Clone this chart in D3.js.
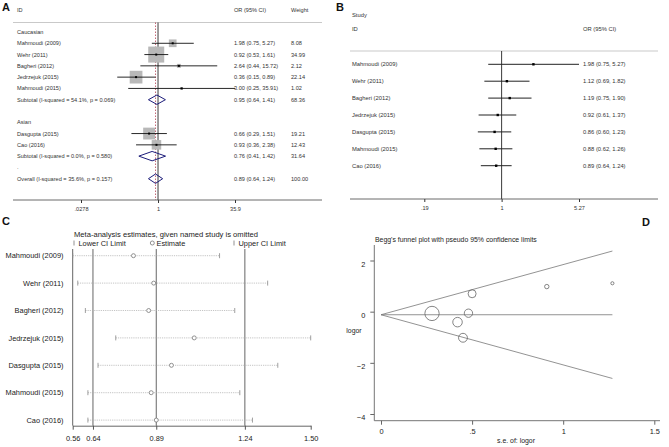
<!DOCTYPE html>
<html>
<head>
<meta charset="utf-8">
<script src="https://cdn.jsdelivr.net/npm/d3@7"></script>
<style>
  body { margin: 0; background: #fff; }
  svg { font-family: Arial, "Liberation Sans", sans-serif; }
</style>
</head>
<body>
<div id="chart"></div>
<script>
// ---- panel A: subgroup forest plot ----
var aLabels = ["Caucasian", "Mahmoudi (2009)", "Wehr (2011)", "Bagheri (2012)", "Jedrzejuk (2015)",
  "Mahmoudi (2015)", "Subtotal  (I-squared = 54.1%, p = 0.069)", "", "Asian", "Dasgupta (2015)",
  "Cao (2016)", "Subtotal  (I-squared = 0.0%, p = 0.580)", ".", "Overall  (I-squared = 35.6%, p = 0.157)"];
var aType = ["head", "study", "study", "study", "study", "study", "sub", "blank", "head", "study",
  "study", "sub", "blank", "overall"];
var aOR   = [null, 1.98, 0.92, 2.64, 0.36, 3.00, 0.95, null, null, 0.66, 0.93, 0.76, null, 0.89];
var aLow  = [null, 0.75, 0.53, 0.44, 0.15, 0.25, 0.64, null, null, 0.29, 0.36, 0.41, null, 0.64];
var aHigh = [null, 5.27, 1.61, 15.72, 0.89, 35.91, 1.41, null, null, 1.51, 2.38, 1.42, null, 1.24];
var aWeight = [null, 8.08, 34.99, 2.12, 22.14, 1.02, 68.36, null, null, 19.21, 12.43, 31.64, null, 100.00];
var aTicks = [0.0278, 1, 35.9];
var aTickLabels = [".0278", "1", "35.9"];

// ---- panel B: cumulative meta-analysis ----
var bLabels = ["Mahmoudi (2009)", "Wehr (2011)", "Bagheri (2012)", "Jedrzejuk (2015)",
  "Dasgupta (2015)", "Mahmoudi (2015)", "Cao (2016)"];
var bOR   = [1.98, 1.12, 1.19, 0.92, 0.86, 0.88, 0.89];
var bLow  = [0.75, 0.69, 0.75, 0.61, 0.60, 0.62, 0.64];
var bHigh = [5.27, 1.82, 1.90, 1.37, 1.23, 1.26, 1.24];
var bTicks = [0.19, 1, 5.27];
var bTickLabels = [".19", "1", "5.27"];

// ---- panel C: leave-one-out sensitivity ----
var cLabels = ["Mahmoudi (2009)", "Wehr (2011)", "Bagheri (2012)", "Jedrzejuk (2015)",
  "Dasgupta (2015)", "Mahmoudi (2015)", "Cao (2016)"];
var cEst  = [0.80, 0.88, 0.86, 1.04, 0.95, 0.87, 0.89];
var cLow  = [0.56, 0.58, 0.61, 0.73, 0.66, 0.62, 0.62];
var cHigh = [1.14, 1.33, 1.20, 1.50, 1.37, 1.22, 1.27];
var cTicks = [0.56, 0.64, 0.89, 1.24, 1.50];
var cRefLines = [0.64, 0.89, 1.24];

// ---- panel D: Begg's funnel plot ----
var dSe    = [0.50, 0.28, 0.91, 0.45, 1.27, 0.42, 0.48];
var dLogor = [0.70, -0.07, 0.98, -1.02, 1.11, -0.41, -0.06];
var funnelSe  = [0, 1.27];
var funnelMid = [-0.12, -0.12];
var funnelUp  = [-0.12, 2.37];
var funnelLow = [-0.12, -2.61];
var dYTicks = [2, 0, -2, -4];
var dXTicks = [0, 0.5, 1, 1.5];
var dXTickLabels = ["0", ".5", "1", "1.5"];

var svg = d3.select("#chart").append("svg")
  .attr("width", 669).attr("height", 447);

function letter(t, x, y) {
  svg.append("text").attr("x", x).attr("y", y).text(t)
    .attr("font-size", 11).attr("font-weight", "bold").attr("fill", "#111");
}
letter("A", 2, 11);
letter("B", 336, 11);
letter("C", 2, 225);
letter("D", 642, 226);

// =============== A ===============
var gA = svg.append("g");
var xA = d3.scaleLog().domain([0.0278, 35.9]).range([81, 235]);
var yA = d3.scaleLinear().domain([0, 13]).range([32, 178.7]);
var sA = d3.scaleSqrt().domain([0, 35]).range([0, 16]);

gA.append("text").attr("x", 17).attr("y", 12).text("ID");
gA.append("text").attr("x", 234).attr("y", 12).text("OR (95% CI)");
gA.append("text").attr("x", 291).attr("y", 12).text("Weight");
gA.append("line").attr("x1", 13).attr("x2", 322).attr("y1", 22.5).attr("y2", 22.5)
  .attr("stroke", "#bbb").attr("stroke-width", 0.8);

// reference lines
gA.append("line").attr("x1", xA(1)).attr("x2", xA(1)).attr("y1", 22.5).attr("y2", 200)
  .attr("stroke", "#222").attr("stroke-width", 0.9);
gA.append("line").attr("x1", xA(0.89)).attr("x2", xA(0.89)).attr("y1", 22.5).attr("y2", 200)
  .attr("stroke", "#b04050").attr("stroke-width", 0.8).attr("stroke-dasharray", "1.5,1.5");

aLabels.forEach(function(lab, i) {
  var y = yA(i);
  gA.append("text").attr("x", 17).attr("y", y + 2).text(lab);
  if (aOR[i] == null) return;
  gA.append("text").attr("x", 234).attr("y", y + 2)
    .text(aOR[i].toFixed(2) + " (" + aLow[i].toFixed(2) + ", " + aHigh[i].toFixed(2) + ")");
  gA.append("text").attr("x", 291).attr("y", y + 2).text(aWeight[i].toFixed(2));
  if (aType[i] == "study") {
    var s = sA(aWeight[i]);
    gA.append("rect").attr("x", xA(aOR[i]) - s / 2).attr("y", y - s / 2)
      .attr("width", s).attr("height", s).attr("fill", "#b8b8b8");
    gA.append("line").attr("x1", xA(aLow[i])).attr("x2", xA(aHigh[i]))
      .attr("y1", y).attr("y2", y).attr("stroke", "#111").attr("stroke-width", 0.9);
    gA.append("rect").attr("x", xA(aOR[i]) - 1).attr("y", y - 1)
      .attr("width", 2).attr("height", 2).attr("fill", "#000");
  } else {
    var h = 4.7;
    gA.append("path")
      .attr("d", "M" + xA(aLow[i]) + "," + y + "L" + xA(aOR[i]) + "," + (y - h) +
        "L" + xA(aHigh[i]) + "," + y + "L" + xA(aOR[i]) + "," + (y + h) + "Z")
      .attr("fill", "none").attr("stroke", "#1c1c7a").attr("stroke-width", 1);
  }
});
gA.selectAll("text").attr("font-size", 5.6).attr("fill", "#333");

var axA = gA.append("g").attr("transform", "translate(0,200)")
  .call(d3.axisBottom(xA).tickValues(aTicks)
    .tickFormat(function(d, i) { return aTickLabels[i]; }).tickSize(3).tickSizeOuter(0));
axA.select(".domain").remove();
axA.selectAll("text").attr("font-size", 5.6).attr("fill", "#333").attr("dy", "0.9em");
axA.selectAll("line").attr("stroke", "#333");
gA.append("line").attr("x1", 13).attr("x2", 322).attr("y1", 200).attr("y2", 200)
  .attr("stroke", "#444").attr("stroke-width", 0.8);

// =============== B ===============
var gB = svg.append("g");
var xB = d3.scaleLog().domain([0.19, 5.27]).range([424.3, 579]);
var yB = d3.scaleLinear().domain([0, 6]).range([64.3, 165.7]);

gB.append("text").attr("x", 352).attr("y", 17).text("Study");
gB.append("text").attr("x", 352).attr("y", 31).text("ID");
gB.append("text").attr("x", 583).attr("y", 31).text("OR (95% CI)");
gB.append("line").attr("x1", 350).attr("x2", 658).attr("y1", 51).attr("y2", 51)
  .attr("stroke", "#bbb").attr("stroke-width", 0.8);
gB.append("line").attr("x1", xB(1)).attr("x2", xB(1)).attr("y1", 51).attr("y2", 199)
  .attr("stroke", "#222").attr("stroke-width", 0.9);

bLabels.forEach(function(lab, i) {
  var y = yB(i);
  gB.append("text").attr("x", 352).attr("y", y + 2).text(lab);
  gB.append("text").attr("x", 583).attr("y", y + 2)
    .text(bOR[i].toFixed(2) + " (" + bLow[i].toFixed(2) + ", " + bHigh[i].toFixed(2) + ")");
  gB.append("line").attr("x1", xB(bLow[i])).attr("x2", xB(bHigh[i]))
    .attr("y1", y).attr("y2", y).attr("stroke", "#222").attr("stroke-width", 1);
  gB.append("rect").attr("x", xB(bOR[i]) - 1.2).attr("y", y - 1.2)
    .attr("width", 2.4).attr("height", 2.4).attr("fill", "#000");
});
gB.selectAll("text").attr("font-size", 5.8).attr("fill", "#333");

var axB = gB.append("g").attr("transform", "translate(0,199)")
  .call(d3.axisBottom(xB).tickValues(bTicks)
    .tickFormat(function(d, i) { return bTickLabels[i]; }).tickSize(3).tickSizeOuter(0));
axB.select(".domain").remove();
axB.selectAll("text").attr("font-size", 5.6).attr("fill", "#333").attr("dy", "0.9em");
axB.selectAll("line").attr("stroke", "#333");
gB.append("line").attr("x1", 350).attr("x2", 658).attr("y1", 199).attr("y2", 199)
  .attr("stroke", "#444").attr("stroke-width", 0.8);

// =============== C ===============
var gC = svg.append("g");
var xC = d3.scaleLinear().domain([0.56, 1.50]).range([72.7, 310.7]);
var yC = d3.scaleLinear().domain([0, 6]).range([255.7, 420.1]);
var cTop = 249, cBot = 425.7;

gC.append("text").attr("x", 74).attr("y", 237).text("Meta-analysis estimates, given named study is omitted")
  .attr("font-size", 7.6).attr("fill", "#222");
// legend
[[74, "Lower CI Limit"], [234, "Upper CI Limit"]].forEach(function(l) {
  gC.append("line").attr("x1", l[0]).attr("x2", l[0]).attr("y1", 240.5).attr("y2", 245.5)
    .attr("stroke", "#777").attr("stroke-width", 0.8);
  gC.append("text").attr("x", l[0] + 4.5).attr("y", 245.5).text(l[1])
    .attr("font-size", 7.4).attr("fill", "#222");
});
gC.append("circle").attr("cx", 152.3).attr("cy", 243).attr("r", 2)
  .attr("fill", "none").attr("stroke", "#777").attr("stroke-width", 0.8);
gC.append("text").attr("x", 156.5).attr("y", 245.5).text("Estimate")
  .attr("font-size", 7.4).attr("fill", "#222");

// frame + reference lines
gC.append("line").attr("x1", xC(0.56)).attr("x2", xC(0.56)).attr("y1", cTop).attr("y2", cBot)
  .attr("stroke", "#555").attr("stroke-width", 0.9);
cRefLines.forEach(function(v) {
  gC.append("line").attr("x1", xC(v)).attr("x2", xC(v)).attr("y1", cTop).attr("y2", cBot)
    .attr("stroke", "#555").attr("stroke-width", 0.9);
});

cLabels.forEach(function(lab, i) {
  var y = yC(i);
  gC.append("text").attr("x", 63.5).attr("y", y + 2.6).attr("text-anchor", "end").text(lab)
    .attr("font-size", 7.4).attr("fill", "#222");
  gC.append("line").attr("x1", xC(cLow[i])).attr("x2", xC(cHigh[i])).attr("y1", y).attr("y2", y)
    .attr("stroke", "#aaa").attr("stroke-width", 0.7).attr("stroke-dasharray", "1.2,1");
  [cLow[i], cHigh[i]].forEach(function(v) {
    gC.append("line").attr("x1", xC(v)).attr("x2", xC(v)).attr("y1", y - 2.5).attr("y2", y + 2.5)
      .attr("stroke", "#888").attr("stroke-width", 0.8);
  });
  gC.append("circle").attr("cx", xC(cEst[i])).attr("cy", y).attr("r", 2)
    .attr("fill", "#fff").attr("stroke", "#777").attr("stroke-width", 0.8);
});

var axC = gC.append("g").attr("transform", "translate(0," + cBot + ")")
  .call(d3.axisBottom(xC).tickValues(cTicks).tickFormat(d3.format(".2f"))
    .tickSize(4).tickSizeOuter(0));
axC.select(".domain").attr("stroke", "#555").attr("stroke-width", 0.9);
axC.selectAll("line").attr("stroke", "#555");
axC.selectAll("text").attr("font-size", 7.4).attr("fill", "#222").attr("dy", "1.1em");

// =============== D ===============
var gD = svg.append("g");
var xD = d3.scaleLinear().domain([0, 1.5]).range([381, 654.3]);
var yD = d3.scaleLinear().domain([-4, 2]).range([414, 260.5]);
var rD = d3.scaleLinear().domain([0, 4]).range([0, 8]);

gD.append("text").attr("x", 375).attr("y", 241.5)
  .text("Begg's funnel plot with pseudo 95% confidence limits")
  .attr("font-size", 6.9).attr("fill", "#222");

var line = d3.line().x(function(d) { return xD(d[0]); }).y(function(d) { return yD(d[1]); });
[funnelMid, funnelUp, funnelLow].forEach(function(arr) {
  gD.append("path").attr("d", line(d3.zip(funnelSe, arr)))
    .attr("fill", "none").attr("stroke", "#777").attr("stroke-width", 0.8);
});

gD.selectAll(".pt").data(d3.range(dSe.length)).enter().append("circle")
  .attr("cx", function(i) { return xD(dSe[i]); })
  .attr("cy", function(i) { return yD(dLogor[i]); })
  .attr("r", function(i) { return rD(1 / dSe[i]); })
  .attr("fill", "none").attr("stroke", "#666").attr("stroke-width", 0.8);

var axDy = gD.append("g").attr("transform", "translate(374.3,0)")
  .call(d3.axisLeft(yD).tickValues(dYTicks).tickFormat(d3.format("d"))
    .tickSize(4).tickSizeOuter(0));
axDy.select(".domain").remove();
axDy.selectAll("line").attr("stroke", "#666");
axDy.selectAll("text").attr("font-size", 7.4).attr("fill", "#222").attr("dy", "0.75em")
  .attr("x", -9);
var axDx = gD.append("g").attr("transform", "translate(0,420.7)")
  .call(d3.axisBottom(xD).tickValues(dXTicks)
    .tickFormat(function(d, i) { return dXTickLabels[i]; }).tickSize(4).tickSizeOuter(0));
axDx.select(".domain").remove();
axDx.selectAll("line").attr("stroke", "#666");
axDx.selectAll("text").attr("font-size", 7.4).attr("fill", "#222").attr("dy", "0.9em");

gD.append("path").attr("d", "M374.3,245V420.7H660")
  .attr("fill", "none").attr("stroke", "#666").attr("stroke-width", 0.9);
gD.append("text").attr("x", 354).attr("y", 333).attr("text-anchor", "middle").text("logor")
  .attr("font-size", 6.9).attr("fill", "#222");
gD.append("text").attr("x", 516).attr("y", 442.5).attr("text-anchor", "middle").text("s.e. of: logor")
  .attr("font-size", 6.9).attr("fill", "#222");
</script>
</body>
</html>
